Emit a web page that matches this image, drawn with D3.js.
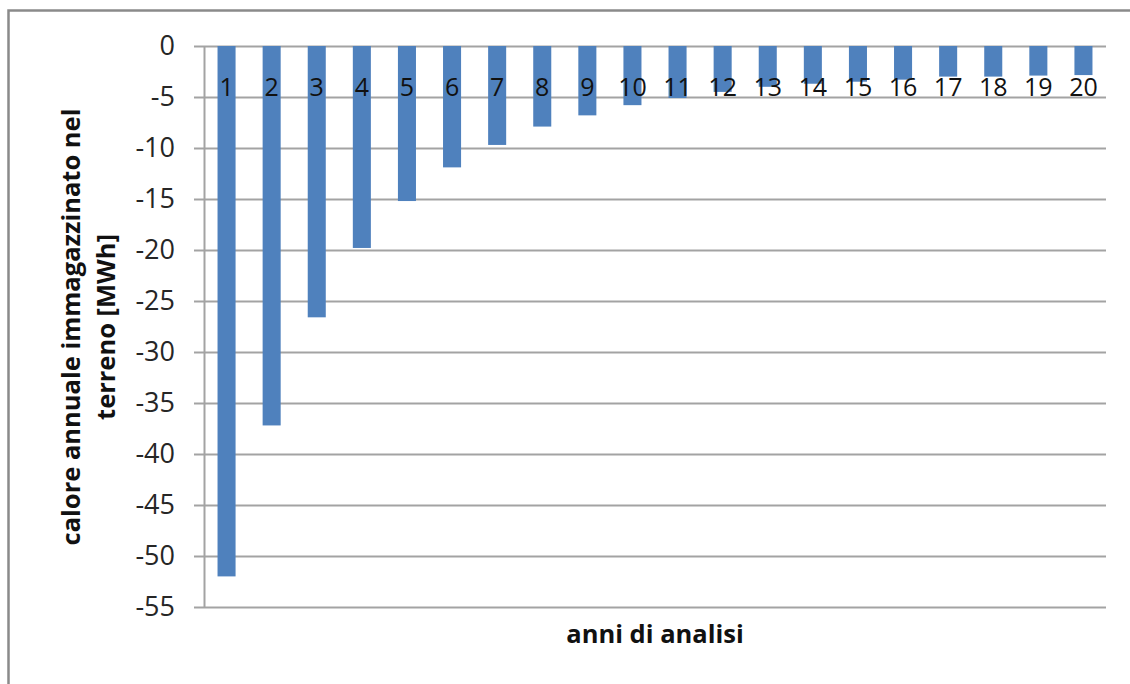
<!DOCTYPE html>
<html>
<head>
<meta charset="utf-8">
<script src="https://cdn.jsdelivr.net/npm/d3@7"></script>
<style>
  html, body { margin: 0; padding: 0; background: #fff; }
  svg { display: block; }
  text { font-family: "Open Sans", "Liberation Sans", sans-serif; }
</style>
</head>
<body>
<svg id="chart" width="1130" height="684"></svg>
<script>
// Annual heat stored in the ground, per year of analysis (MWh)
const years = ["1","2","3","4","5","6","7","8","9","10","11","12","13","14","15","16","17","18","19","20"];
const storedHeat = [-52.0, -37.2, -26.6, -19.8, -15.2, -11.9, -9.7, -7.9, -6.8, -5.8,
                    -5.1, -4.5, -4.0, -3.7, -3.5, -3.3, -3.0, -3.0, -2.9, -2.85];
const yTicks = [0, -5, -10, -15, -20, -25, -30, -35, -40, -45, -50, -55];
const yTitleLines = ["calore annuale immagazzinato nel", "terreno [MWh]"];
const xTitle = "anni di analisi";

const svg = d3.select("#chart");
const W = 1130, H = 684;
const m = { left: 204, top: 46, right: 1106, bottom: 607 };

svg.append("rect").attr("width", W).attr("height", H).attr("fill", "#fff");

// outer chart frame
svg.append("rect")
  .attr("x", 8.5).attr("y", 10.5)
  .attr("width", W + 20).attr("height", H + 20)
  .attr("fill", "none").attr("stroke", "#8a8a8a").attr("stroke-width", 2.5);

const x = d3.scaleBand().domain(years).range([m.left, m.right]).paddingInner(0.6).paddingOuter(0.3);
const y = d3.scaleLinear().domain([0, -55]).range([m.top, m.bottom]);

// horizontal gridlines
svg.append("g")
  .attr("transform", `translate(${m.left},0)`)
  .call(d3.axisLeft(y).tickValues(yTicks).tickSize(-(m.right - m.left)).tickFormat(""))
  .call(g => g.select(".domain").remove())
  .call(g => g.selectAll("line").attr("stroke", "#a3a3a3").attr("stroke-width", 2));

// bars
svg.append("g").selectAll("rect")
  .data(years.map((k, i) => ({ k, v: storedHeat[i] })))
  .join("rect")
  .attr("x", d => x(d.k))
  .attr("width", x.bandwidth())
  .attr("y", y(0))
  .attr("height", d => y(d.v) - y(0))
  .attr("fill", "#4f81bd");

// y axis with ticks and labels
const yAxis = svg.append("g")
  .attr("transform", `translate(${m.left},0)`)
  .call(d3.axisLeft(y).tickValues(yTicks).tickSizeInner(10).tickSizeOuter(0).tickPadding(19)
        .tickFormat(d => String(d)));
yAxis.select(".domain").attr("stroke", "#a3a3a3").attr("stroke-width", 2);
yAxis.selectAll(".tick line").attr("stroke", "#a3a3a3").attr("stroke-width", 2);
yAxis.selectAll(".tick text")
  .attr("font-size", 27).attr("fill", "#262626")
  .style("font-family", "'Open Sans', sans-serif");

// category labels just below the zero line
const xAxis = svg.append("g")
  .attr("transform", `translate(0,${y(0)})`)
  .call(d3.axisBottom(x).tickSize(0).tickPadding(32));
xAxis.select(".domain").remove();
xAxis.selectAll(".tick text")
  .attr("font-size", 25).attr("fill", "#111")
  .style("font-family", "'Open Sans', sans-serif");

// axis titles
const yt = svg.append("text")
  .attr("transform", "rotate(-90)")
  .attr("text-anchor", "middle")
  .attr("font-weight", "bold").attr("font-size", 25.5).attr("fill", "#111");
yt.selectAll("tspan").data(yTitleLines).join("tspan")
  .attr("x", -327)
  .attr("y", (d, i) => 80 + i * 35)
  .text(d => d);

svg.append("text")
  .attr("x", 655).attr("y", 643)
  .attr("text-anchor", "middle")
  .attr("font-weight", "bold").attr("font-size", 25.5).attr("fill", "#111")
  .text(xTitle);
</script>
</body>
</html>
